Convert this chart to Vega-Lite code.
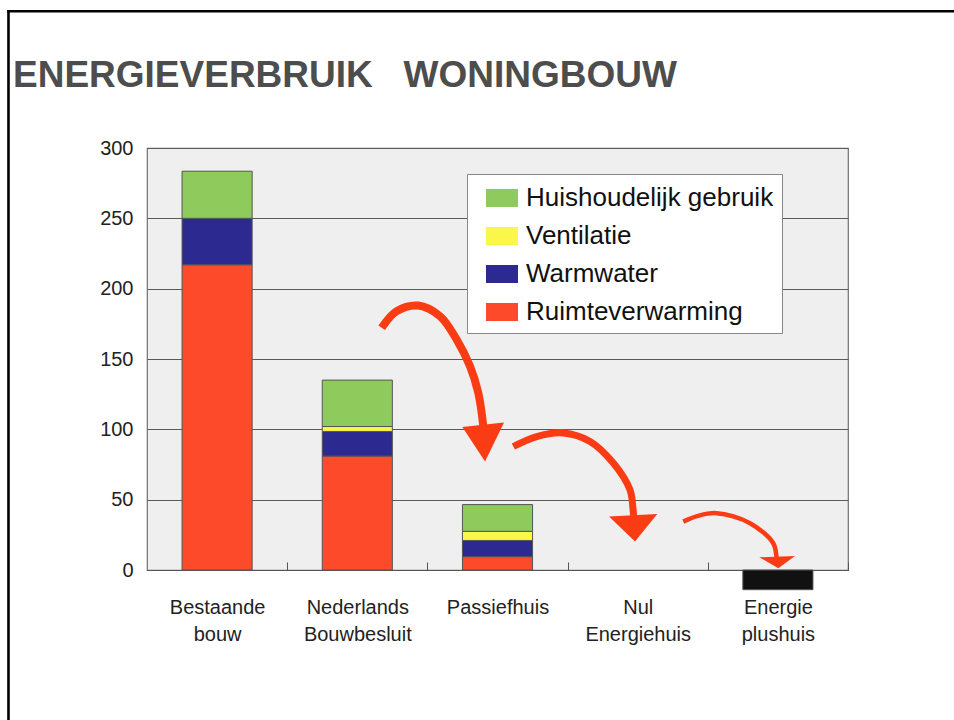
{
  "$schema": "https://vega.github.io/schema/vega-lite/v6.json",
  "width": 701,
  "height": 422,
  "autosize": {"type": "none"},
  "padding": {"left": 147, "top": 148, "right": 106, "bottom": 150},
  "background": "white",
  "title": {
    "text": "ENERGIEVERBRUIK\u00a0\u00a0\u00a0WONINGBOUW",
    "anchor": "start",
    "frame": "group",
    "dx": -134,
    "offset": -115,
    "baseline": "alphabetic",
    "font": "Liberation Sans",
    "fontSize": 37,
    "fontWeight": "bold",
    "color": "#4d4d4d"
  },
  "config": {
    "font": "Liberation Sans",
    "view": {"fill": "#efefef", "stroke": "#707070", "strokeWidth": 1.2}
  },
  "datasets": {
    "energie": [
      {"woning": "Bestaande bouw", "post": "Ruimteverwarming", "verbruik": 217, "volgorde": 1},
      {"woning": "Bestaande bouw", "post": "Warmwater", "verbruik": 33, "volgorde": 2},
      {"woning": "Bestaande bouw", "post": "Huishoudelijk gebruik", "verbruik": 33.5, "volgorde": 4},
      {"woning": "Nederlands Bouwbesluit", "post": "Ruimteverwarming", "verbruik": 81, "volgorde": 1},
      {"woning": "Nederlands Bouwbesluit", "post": "Warmwater", "verbruik": 17.5, "volgorde": 2},
      {"woning": "Nederlands Bouwbesluit", "post": "Ventilatie", "verbruik": 3.5, "volgorde": 3},
      {"woning": "Nederlands Bouwbesluit", "post": "Huishoudelijk gebruik", "verbruik": 33, "volgorde": 4},
      {"woning": "Passiefhuis", "post": "Ruimteverwarming", "verbruik": 9.5, "volgorde": 1},
      {"woning": "Passiefhuis", "post": "Warmwater", "verbruik": 11.5, "volgorde": 2},
      {"woning": "Passiefhuis", "post": "Ventilatie", "verbruik": 6.5, "volgorde": 3},
      {"woning": "Passiefhuis", "post": "Huishoudelijk gebruik", "verbruik": 19, "volgorde": 4},
      {"woning": "Energie plushuis", "post": "Opwekking", "verbruik": -14, "volgorde": 5}
    ],
    "pijlen": [
      {"pijl": "a", "ax": 1.674, "ay": 172.2},
      {"pijl": "a", "ax": 1.781, "ay": 184.0},
      {"pijl": "a", "ax": 1.935, "ay": 188.0},
      {"pijl": "a", "ax": 2.090, "ay": 180.4},
      {"pijl": "a", "ax": 2.209, "ay": 163.8},
      {"pijl": "a", "ax": 2.304, "ay": 144.8},
      {"pijl": "a", "ax": 2.363, "ay": 125.9},
      {"pijl": "a", "ax": 2.396, "ay": 104.5},
      {"pijl": "a", "ax": 2.401, "ay": 98.3},
      {"pijl": "b", "ax": 2.613, "ay": 87.8},
      {"pijl": "b", "ax": 2.780, "ay": 94.9},
      {"pijl": "b", "ax": 2.969, "ay": 97.4},
      {"pijl": "b", "ax": 3.160, "ay": 91.4},
      {"pijl": "b", "ax": 3.326, "ay": 76.0},
      {"pijl": "b", "ax": 3.445, "ay": 57.0},
      {"pijl": "b", "ax": 3.466, "ay": 44.0},
      {"pijl": "b", "ax": 3.472, "ay": 36.0},
      {"pijl": "c", "ax": 3.825, "ay": 34.4},
      {"pijl": "c", "ax": 3.930, "ay": 38.5},
      {"pijl": "c", "ax": 4.063, "ay": 40.4},
      {"pijl": "c", "ax": 4.301, "ay": 33.3},
      {"pijl": "c", "ax": 4.467, "ay": 19.0},
      {"pijl": "c", "ax": 4.490, "ay": 9.5},
      {"pijl": "c", "ax": 4.495, "ay": 7.0}
    ],
    "koppen": [
      {"pijl": "a", "ax": 2.399, "ay": 103.3},
      {"pijl": "b", "ax": 3.468, "ay": 38.96},
      {"pijl": "c", "ax": 4.495, "ay": 9.54}
    ],
    "kader": [
      {"ax": -0.988, "ay": 397.2, "ax2": 5.9, "ay2": 397.2},
      {"ax": -0.988, "ay": 397.2, "ax2": -0.988, "ay2": -115}
    ]
  },
  "layer": [
    {
      "data": {"name": "energie"},
      "mark": {"type": "bar", "stroke": "#555555", "strokeWidth": 1},
      "encoding": {
        "x": {
          "field": "woning",
          "type": "nominal",
          "sort": null,
          "scale": {
            "domain": ["Bestaande bouw", "Nederlands Bouwbesluit", "Passiefhuis", "Nul Energiehuis", "Energie plushuis"],
            "paddingInner": 0.5,
            "paddingOuter": 0.25
          },
          "axis": {
            "title": null,
            "labelAngle": 0,
            "labelFontSize": 20,
            "labelColor": "#222222",
            "labelExpr": "split(datum.label, ' ')",
            "labelLineHeight": 27,
            "labelPadding": 35,
            "tickOffset": 70.1,
            "labelOffset": -70.1,
            "tickSize": -8,
            "tickColor": "#555555",
            "domainColor": "#555555",
            "domainWidth": 1.2,
            "grid": false
          }
        },
        "y": {
          "field": "verbruik",
          "type": "quantitative",
          "stack": "zero",
          "title": null,
          "scale": {"domain": [0, 300], "nice": false, "zero": true},
          "axis": {
            "title": null,
            "values": [0, 50, 100, 150, 200, 250, 300],
            "labelFontSize": 20,
            "labelColor": "#222222",
            "labelPadding": 14,
            "ticks": false,
            "domain": false,
            "grid": true,
            "gridColor": "#5a5a5a",
            "gridWidth": 1.2
          }
        },
        "color": {
          "field": "post",
          "type": "nominal",
          "scale": {
            "domain": ["Huishoudelijk gebruik", "Ventilatie", "Warmwater", "Ruimteverwarming", "Opwekking"],
            "range": ["#8fca5c", "#fbf74a", "#2c2a90", "#fd4a2b", "#111111"]
          },
          "legend": {
            "orient": "none",
            "legendX": 320,
            "legendY": 26,
            "title": null,
            "values": ["Huishoudelijk gebruik", "Ventilatie", "Warmwater", "Ruimteverwarming"],
            "labelFontSize": 26,
            "labelColor": "#111111",
            "labelLimit": 400,
            "symbolType": "M-1,-0.5625L1,-0.5625L1,0.5625L-1,0.5625Z",
            "symbolSize": 1024,
            "symbolStrokeWidth": 0,
            "symbolOffset": 11,
            "labelOffset": 8,
            "rowPadding": 9,
            "padding": 8,
            "fillColor": "white",
            "strokeColor": "#888888",
            "cornerRadius": 0
          }
        },
        "order": {"field": "volgorde", "type": "quantitative"}
      }
    },
    {
      "layer": [
        {
          "data": {"name": "kader"},
          "mark": {"type": "rule", "color": "#000000", "strokeWidth": 2.6, "strokeCap": "square"},
          "encoding": {
            "x": {"field": "ax", "type": "quantitative", "scale": {"domain": [0, 5], "nice": false, "zero": false}, "axis": null},
            "x2": {"field": "ax2"},
            "y": {"field": "ay", "type": "quantitative", "title": null, "scale": {"domain": [0, 300], "nice": false}},
            "y2": {"field": "ay2"}
          }
        },
        {
          "data": {"name": "pijlen"},
          "transform": [{"filter": "datum.pijl == 'a'"}],
          "mark": {"type": "line", "color": "#fa3c14", "strokeWidth": 8, "interpolate": "catmull-rom", "strokeCap": "butt"},
          "encoding": {
            "x": {"field": "ax", "type": "quantitative", "scale": {"domain": [0, 5], "nice": false, "zero": false}, "axis": null},
            "y": {"field": "ay", "type": "quantitative", "title": null, "scale": {"domain": [0, 300], "nice": false}}
          }
        },
        {
          "data": {"name": "pijlen"},
          "transform": [{"filter": "datum.pijl == 'b'"}],
          "mark": {"type": "line", "color": "#fa3c14", "strokeWidth": 7, "interpolate": "catmull-rom", "strokeCap": "butt"},
          "encoding": {
            "x": {"field": "ax", "type": "quantitative", "scale": {"domain": [0, 5], "nice": false, "zero": false}, "axis": null},
            "y": {"field": "ay", "type": "quantitative", "title": null, "scale": {"domain": [0, 300], "nice": false}}
          }
        },
        {
          "data": {"name": "pijlen"},
          "transform": [{"filter": "datum.pijl == 'c'"}],
          "mark": {"type": "line", "color": "#fa3c14", "strokeWidth": 4.5, "interpolate": "catmull-rom", "strokeCap": "butt"},
          "encoding": {
            "x": {"field": "ax", "type": "quantitative", "scale": {"domain": [0, 5], "nice": false, "zero": false}, "axis": null},
            "y": {"field": "ay", "type": "quantitative", "title": null, "scale": {"domain": [0, 300], "nice": false}}
          }
        },
        {
          "data": {"name": "koppen"},
          "mark": {"type": "point", "filled": true, "color": "#fa3c14", "opacity": 1, "size": 400, "strokeWidth": 0},
          "encoding": {
            "x": {"field": "ax", "type": "quantitative", "scale": {"domain": [0, 5], "nice": false, "zero": false}, "axis": null},
            "y": {"field": "ay", "type": "quantitative", "title": null, "scale": {"domain": [0, 300], "nice": false}},
            "shape": {
              "field": "pijl",
              "type": "nominal",
              "scale": {
                "domain": ["a", "b", "c"],
                "range": ["M-2.1,0.23L2.07,-0.23L0.17,3.67Z", "M-2.42,0.14L2.41,-0.13L0.18,2.64Z", "M-1.79,0.07L1.78,-0.06L0.11,1.17Z"]
              },
              "legend": null
            }
          }
        }
      ]
    }
  ],
  "resolve": {"scale": {"x": "independent"}}
}
